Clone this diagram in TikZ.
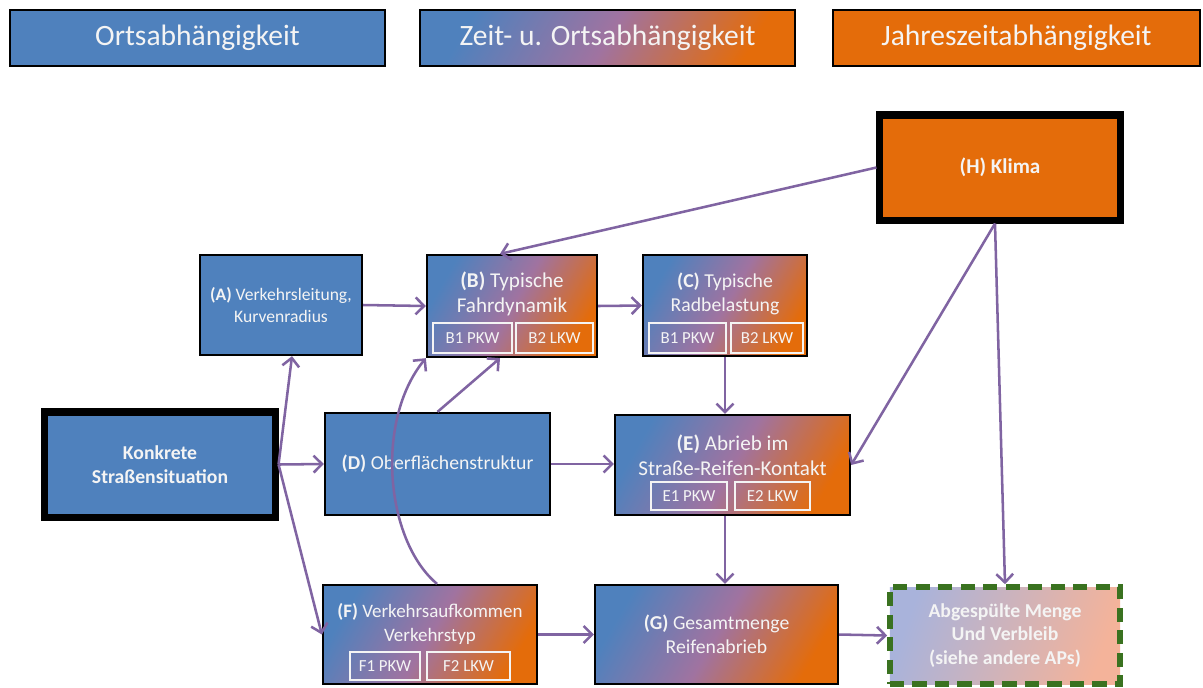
\documentclass[tikz,border=0pt]{standalone}
\usepackage{fontspec}
\setmainfont{Carlito}
\usepackage{xcolor}
\definecolor{ortsblue}{HTML}{4F81BD}
\definecolor{jahrorange}{HTML}{E46C0A}
\definecolor{mixmauve}{HTML}{A073A0}
\definecolor{flowpurple}{HTML}{8064A2}
\definecolor{apgreen}{HTML}{3A7220}
\definecolor{paleblue}{HTML}{A9B3DB}
\definecolor{paleorange}{HTML}{F4B39A}
\definecolor{boxtext}{HTML}{F4F4F4}
\usepackage{tikz}
\usetikzlibrary{arrows.meta, calc}

\begin{document}
\begin{tikzpicture}[x=0.025cm, y=-0.025cm,
  box/.style={rectangle, draw=black, line width=1.6pt, inner sep=2pt,
    text=boxtext, align=center, font=\fontsize{14}{17}\selectfont},
  legend/.style={box, line width=1.4pt, minimum width=9.375cm, minimum height=1.4cm,
    font=\fontsize{21}{25}\selectfont},
  heavy/.style={line width=5pt},
  orts/.style={fill=ortsblue},
  jahres/.style={fill=jahrorange},
  mixed/.style={left color=ortsblue, right color=jahrorange, middle color=mixmauve, shading angle=60},
  sub/.style={rectangle, draw=boxtext, line width=1.4pt, text=boxtext, inner sep=0pt,
    font=\fontsize{12}{14}\selectfont},
  txt/.style={text=boxtext, align=center, font=\fontsize{14}{17}\selectfont},
  big/.style={font=\fontsize{15}{18}\selectfont},
  flow/.style={-{Straight Barb[length=6pt,width=12pt]}, flowpurple, line width=1.8pt}
]
\fill[white] (0,0) rectangle (1203,687);
\useasboundingbox (0,0) rectangle (1203,687);

% Legend
\node[legend, orts] (lgorts) at (197.5,38) {Ortsabhängigkeit};
\node[legend, mixed] (lgmix) at (607.5,38) {Zeit- u. Ortsabhängigkeit};
\node[legend, jahres, minimum width=9.175cm] (lgjahr) at (1016.5,38) {Jahreszeitabhängigkeit};

% Boxes
\node[box, big, jahres, heavy, minimum width=6cm, minimum height=2.625cm] (klima) at (1000,167.5) {\textbf{(H) Klima}};
\node[box, orts, minimum width=4.05cm, minimum height=2.5cm, font=\fontsize{12.5}{16}\selectfont] (leit) at (281,305)
  {\textbf{(A)} Verkehrsleitung,\\Kurvenradius};
\node[box, mixed, minimum width=4.25cm, minimum height=2.55cm] (fahr) at (512,306) {};
\node[txt, big] (fahrtxt) at (512,294) {\textbf{(B)} Typische\\Fahrdynamik};
\node[box, mixed, minimum width=4.1cm, minimum height=2.525cm] (rad) at (725,305.5) {};
\node[txt] (radtxt) at (725,294) {\textbf{(C)} Typische\\Radbelastung};
\node[box, orts, heavy, minimum width=5.75cm, minimum height=2.625cm] (strasse) at (160,464.5)
  {\textbf{Konkrete}\\\textbf{Straßensituation}};
\node[box, orts, minimum width=5.625cm, minimum height=2.55cm] (ober) at (437.5,464)
  {\textbf{(D)} Oberflächenstruktur};
\node[box, mixed, minimum width=5.875cm, minimum height=2.5cm] (abrieb) at (732.5,465) {};
\node[txt, big] (abriebtxt) at (732.5,455) {\textbf{(E)} Abrieb im\\Straße-Reifen-Kontakt};
\node[box, mixed, minimum width=5.35cm, minimum height=2.475cm] (aufk) at (430,634.5) {};
\node[txt, font=\fontsize{13.5}{17}\selectfont] (aufktxt) at (430,624) {\textbf{(F)} Verkehrsaufkommen\\Verkehrstyp};
\node[box, mixed, minimum width=6.075cm, minimum height=2.475cm] (gesamt) at (716.5,634.5)
  {\textbf{(G)} Gesamtmenge\\Reifenabrieb};
\node[box, left color=paleblue, right color=paleorange, shading angle=70,
  draw=apgreen, line width=4pt, dash pattern=on 10pt off 6pt,
  minimum width=5.75cm, minimum height=2.425cm] (verbleib) at (1005,635.5)
  {\textbf{Abgespülte Menge}\\\textbf{Und Verbleib}\\\textbf{(siehe andere APs)}};

% PKW/LKW parts
\node[sub, minimum width=1.975cm, minimum height=0.75cm] (b1) at (472.5,338) {B1 PKW};
\node[sub, minimum width=1.925cm, minimum height=0.75cm] (b2) at (554.5,338) {B2 LKW};
\node[sub, minimum width=1.925cm, minimum height=0.75cm] (c1) at (687.5,338) {B1 PKW};
\node[sub, minimum width=1.8cm, minimum height=0.75cm] (c2) at (767,338) {B2 LKW};
\node[sub, minimum width=1.9cm, minimum height=0.7cm] (e1) at (689,496) {E1 PKW};
\node[sub, minimum width=1.875cm, minimum height=0.7cm] (e2) at (772.5,496) {E2 LKW};
\node[sub, minimum width=1.75cm, minimum height=0.7cm] (f1) at (385,666) {F1 PKW};
\node[sub, minimum width=2.075cm, minimum height=0.7cm] (f2) at (468.5,666) {F2 LKW};

% Arrows
\coordinate (klimafoot) at ($(klima.south)+(-5,0)$);
\draw[flow] (klima.west) -- ($(fahr.north)+(-12,0)$);
\draw[flow] (klimafoot) -- (abrieb.east);
\draw[flow] (klimafoot) -- (verbleib.north);
\draw[flow] (strasse.east) -- ($(leit.south)+(11,0)$);
\draw[flow] (strasse.east) -- (ober.west);
\draw[flow] (strasse.east) -- (aufk.west);
\draw[flow] (leit.east) -- (fahr.west);
\draw[flow] (fahr.east) -- (rad.west);
\draw[flow] (ober.north) -- ($(fahr.south)+(-12,0)$);
\draw[flow] ($(aufk.north)+(7,0)$) .. controls (385,540) and (375,420) .. (fahr.south west);
\draw[flow] (rad.south) -- (rad.south |- abrieb.north);
\draw[flow] (ober.east) -- (ober.east -| abrieb.west);
\draw[flow] (rad.south |- abrieb.south) -- (rad.south |- gesamt.north);
\draw[flow] (aufk.east) -- (gesamt.west);
\draw[flow] (gesamt.east) -- (verbleib.west);
\end{tikzpicture}
\end{document}
